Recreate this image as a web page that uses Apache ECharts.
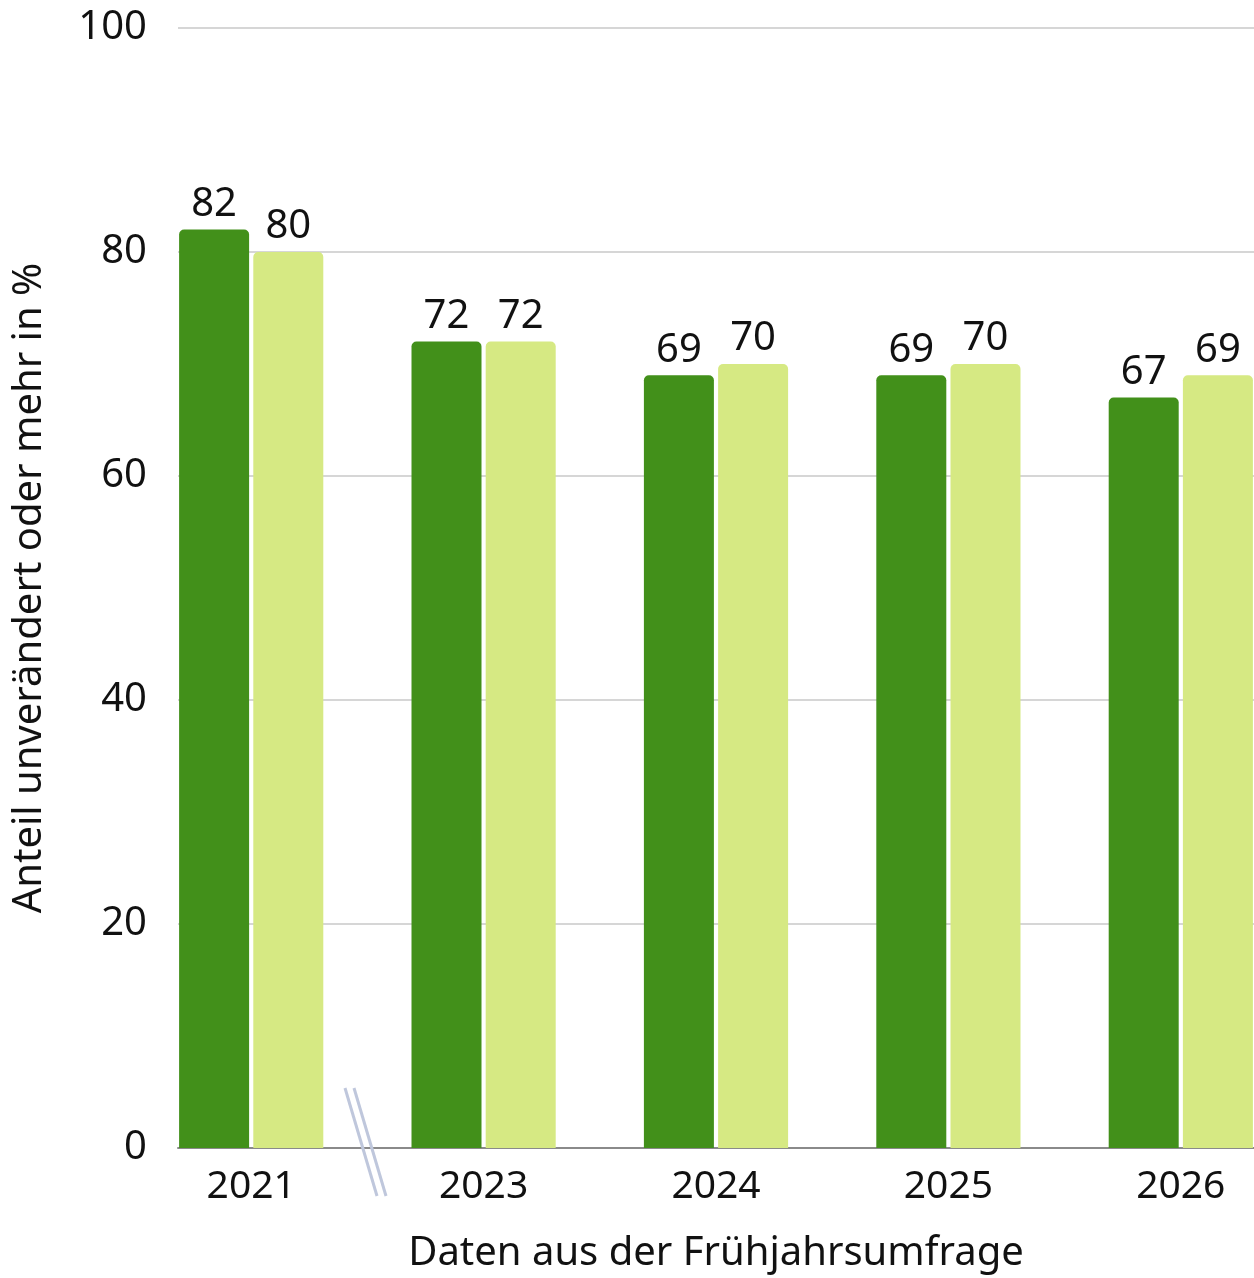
<!DOCTYPE html>
<html>
<head>
<meta charset="utf-8">
<script src="https://cdn.jsdelivr.net/npm/echarts@6/dist/echarts.min.js"></script>
<style>
  html, body { margin: 0; padding: 0; background: #fff; }
  #chart { width: 1254px; height: 1278px; }
</style>
</head>
<body>
<div id="chart"></div>
<script>
// Daten
var years = ['2021', '2023', '2024', '2025', '2026'];
var dunkel = [82, 72, 69, 69, 67];
var hell = [80, 72, 70, 70, 69];
var yTicks = [0, 20, 40, 60, 80, 100];

var font = '"Noto Sans", sans-serif';
var chart = echarts.init(document.getElementById('chart'));

chart.setOption({
    animation: false,
    textStyle: { fontFamily: font },
    grid: [
        // Raster + y-Achse
        { left: 178, right: 0, top: 28, bottom: 130, outerBoundsMode: 'none', containLabel: false },
        // Balken (etwas breiter, damit die Balken bis zum Rand gehen)
        { left: 135, right: -43, top: 28, bottom: 130, outerBoundsMode: 'none', containLabel: false }
    ],
    xAxis: [{
        gridIndex: 0,
        type: 'category',
        data: [''],
        axisLine: { lineStyle: { color: '#8a8a8a', width: 2 } },
        axisTick: { show: false },
        axisLabel: { show: false }
    }, {
        gridIndex: 1,
        type: 'category',
        data: years,
        axisLine: { show: false },
        axisTick: { show: false },
        axisLabel: { fontSize: 39, color: '#111', margin: 19, fontFamily: font },
        name: 'Daten aus der Frühjahrsumfrage',
        nameLocation: 'middle',
        nameGap: 86,
        nameTextStyle: { fontSize: 40, color: '#111', fontFamily: font }
    }],
    yAxis: [{
        gridIndex: 0,
        type: 'value',
        min: yTicks[0],
        max: yTicks[yTicks.length - 1],
        interval: 20,
        axisLine: { show: false },
        axisTick: { show: false },
        axisLabel: { fontSize: 40, color: '#111', margin: 31, fontFamily: font },
        splitLine: { lineStyle: { color: '#c8c8c8', width: 1.5 } },
        name: 'Anteil unverändert oder mehr in %',
        nameLocation: 'middle',
        nameGap: 128,
        nameRotate: 90,
        nameTextStyle: { fontSize: 40, color: '#111', fontFamily: font }
    }, {
        gridIndex: 1,
        type: 'value',
        min: 0,
        max: 100,
        show: false,
        splitLine: { show: false }
    }],
    series: [{
        type: 'bar',
        xAxisIndex: 1,
        yAxisIndex: 1,
        data: dunkel,
        barWidth: 70,
        barGap: '6%',
        itemStyle: { color: '#42901a', borderRadius: [5, 5, 0, 0] },
        label: { show: true, position: 'top', distance: 5, fontSize: 40, color: '#111', fontFamily: font }
    }, {
        type: 'bar',
        xAxisIndex: 1,
        yAxisIndex: 1,
        data: hell,
        barWidth: 70,
        barGap: '6%',
        itemStyle: { color: '#d6e983', borderRadius: [5, 5, 0, 0] },
        label: { show: true, position: 'top', distance: 5, fontSize: 40, color: '#111', fontFamily: font }
    }],
    // Achsenbruch zwischen 2021 und 2023
    graphic: [
        { type: 'line', z: 100, shape: { x1: 345, y1: 1088, x2: 377, y2: 1196 }, style: { stroke: '#bfc7dc', lineWidth: 3 } },
        { type: 'line', z: 100, shape: { x1: 354, y1: 1088, x2: 386, y2: 1196 }, style: { stroke: '#bfc7dc', lineWidth: 3 } }
    ]
});
</script>
</body>
</html>
